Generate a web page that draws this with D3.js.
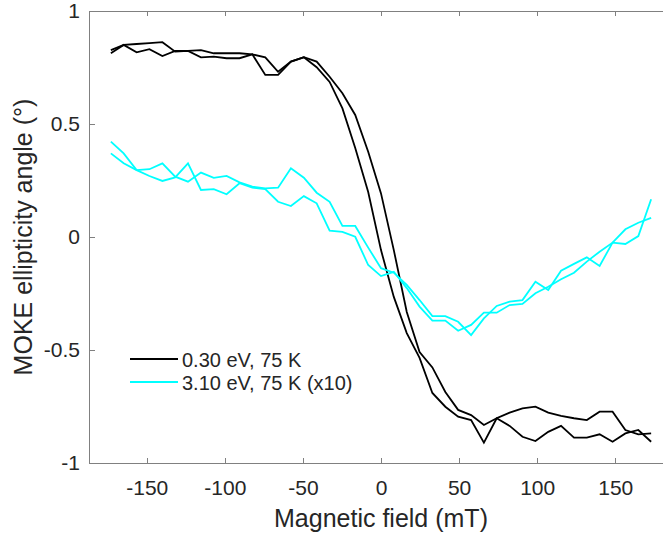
<!DOCTYPE html>
<html>
<head>
<meta charset="utf-8">
<script src="https://cdn.jsdelivr.net/npm/d3@7"></script>
<style>
    body { margin: 0; background: #fff; }
    svg { display: block; }
</style>
</head>
<body>
<div id="chart"></div>
<script>

// magnetic field (mT), shared by all four sweeps
let fieldValues = [-173, -164.8, -156.5, -148.3, -140, -131.8, -123.6, -115.3, -107.1, -98.9,
    -90.6, -82.4, -74.1, -65.9, -57.7, -49.4, -41.2, -32.9, -24.7, -16.5,
    -8.2, 0, 8.2, 16.5, 24.7, 32.9, 41.2, 49.4, 57.7, 65.9,
    74.1, 82.4, 90.6, 98.9, 107.1, 115.3, 123.6, 131.8, 140, 148.3,
    156.5, 164.8, 173];

// 0.30 eV, 75 K - the two sweep directions
let blackSweep1 = [0.813, 0.850, 0.817, 0.831, 0.801, 0.823, 0.823, 0.795, 0.798, 0.791,
    0.791, 0.808, 0.717, 0.717, 0.776, 0.795, 0.751, 0.686, 0.569, 0.394,
    0.199, -0.058, -0.265, -0.425, -0.535, -0.690, -0.751, -0.795, -0.810, -0.910,
    -0.802, -0.777, -0.758, -0.751, -0.777, -0.792, -0.802, -0.810, -0.773, -0.773,
    -0.854, -0.873, -0.869];
let blackSweep2 = [0.827, 0.850, 0.854, 0.858, 0.862, 0.820, 0.824, 0.827, 0.813, 0.813,
    0.813, 0.808, 0.795, 0.731, 0.776, 0.796, 0.776, 0.709, 0.636, 0.540,
    0.377, 0.193, -0.058, -0.332, -0.509, -0.577, -0.686, -0.765, -0.788, -0.832,
    -0.802, -0.836, -0.884, -0.903, -0.862, -0.836, -0.888, -0.888, -0.873, -0.906,
    -0.869, -0.854, -0.906];

// 3.10 eV, 75 K (x10) - the two sweep directions
let cyanSweep1 = [0.422, 0.370, 0.296, 0.300, 0.326, 0.267, 0.245, 0.285, 0.262, 0.270,
    0.242, 0.223, 0.215, 0.218, 0.304, 0.262, 0.196, 0.156, 0.049, 0.049,
    -0.047, -0.138, -0.158, -0.212, -0.279, -0.350, -0.350, -0.375, -0.434, -0.360,
    -0.305, -0.286, -0.279, -0.198, -0.235, -0.149, -0.119, -0.090, -0.128, -0.025,
    -0.031, 0.004, 0.167];
let cyanSweep2 = [0.370, 0.326, 0.296, 0.270, 0.248, 0.264, 0.326, 0.208, 0.212, 0.189,
    0.238, 0.218, 0.212, 0.156, 0.137, 0.181, 0.149, 0.028, 0.023, 0.001,
    -0.124, -0.173, -0.154, -0.226, -0.308, -0.370, -0.370, -0.415, -0.389, -0.335,
    -0.335, -0.301, -0.296, -0.249, -0.220, -0.187, -0.158, -0.109, -0.065, -0.025,
    0.034, 0.063, 0.085];

let xTicks = [-150, -100, -50, 0, 50, 100, 150];
let yTicks = [-1, -0.5, 0, 0.5, 1];
let legendLabels = ["0.30 eV, 75 K", "3.10 eV, 75 K (x10)"];
let seriesColors = ["#000000", "#00ffff"];

// drawing area
let width = 663, height = 533;
let font = "'Liberation Sans', Arial, sans-serif";
let axisColor = "#808080";
let textColor = "#262626";

let svg = d3.select("#chart").append("svg")
    .attr("width", width)
    .attr("height", height);

// scales (the right edge of the box falls outside the picture)
let x = d3.scaleLinear()
    .domain([-187, 187])
    .range([89, 673]);

let y = d3.scaleLinear()
    .domain([-1, 1])
    .range([463, 11]);

// bottom axis with inward ticks
let xAxis = svg.append("g")
    .attr("transform", `translate(0, ${y(-1)})`)
    .call(d3.axisBottom(x)
        .tickValues(xTicks)
        .tickSizeInner(-5)
        .tickSizeOuter(0)
        .tickPadding(17)
        .tickFormat(d => String(d)));

// top border, ticks only
let xTop = svg.append("g")
    .attr("transform", `translate(0, ${y(1)})`)
    .call(d3.axisTop(x)
        .tickValues(xTicks)
        .tickSizeInner(-5)
        .tickSizeOuter(0)
        .tickFormat(""));

// left axis
let yAxis = svg.append("g")
    .attr("transform", `translate(${x.range()[0]}, 0)`)
    .call(d3.axisLeft(y)
        .tickValues(yTicks)
        .tickSizeInner(-6)
        .tickSizeOuter(0)
        .tickPadding(9)
        .tickFormat(d => String(d)));

svg.selectAll(".domain, .tick line")
    .attr("stroke", axisColor)
    .attr("stroke-width", 1)
    .attr("shape-rendering", "crispEdges");

svg.selectAll(".tick text")
    .attr("fill", textColor)
    .style("font-family", font)
    .style("font-size", "21px");

// line generators
let line = d3.line()
    .x((d, i) => x(fieldValues[i]))
    .y(d => y(d));

let series = [
    {values: blackSweep1, color: seriesColors[0]},
    {values: blackSweep2, color: seriesColors[0]},
    {values: cyanSweep1, color: seriesColors[1]},
    {values: cyanSweep2, color: seriesColors[1]}
];

svg.append("g")
    .selectAll("path")
    .data(series)
    .enter().append("path")
    .attr("d", d => line(d.values))
    .attr("fill", "none")
    .attr("stroke", d => d.color)
    .attr("stroke-width", 1.8)
    .attr("stroke-linejoin", "miter");

// axis titles
svg.append("text")
    .text("Magnetic field (mT)")
    .attr("x", x(0))
    .attr("y", 527)
    .attr("text-anchor", "middle")
    .attr("fill", textColor)
    .style("font-family", font)
    .style("font-size", "25px");

svg.append("text")
    .text("MOKE ellipticity angle (°)")
    .attr("transform", `translate(32, ${y(0)}) rotate(-90)`)
    .attr("text-anchor", "middle")
    .attr("fill", textColor)
    .style("font-family", font)
    .style("font-size", "25px");

// legend, no box
let legend = svg.append("g")
    .attr("class", "legend");

let legendRows = legend.selectAll("g")
    .data(legendLabels)
    .enter().append("g")
    .attr("transform", (d, i) => `translate(130, ${359 + i * 23})`);

legendRows.append("line")
    .attr("x1", 0)
    .attr("x2", 48)
    .attr("stroke", (d, i) => seriesColors[i])
    .attr("stroke-width", 1.8);

legendRows.append("text")
    .text(d => d)
    .attr("x", 52)
    .attr("y", 8)
    .attr("fill", textColor)
    .style("font-family", font)
    .style("font-size", "20px");

</script>
</body>
</html>
